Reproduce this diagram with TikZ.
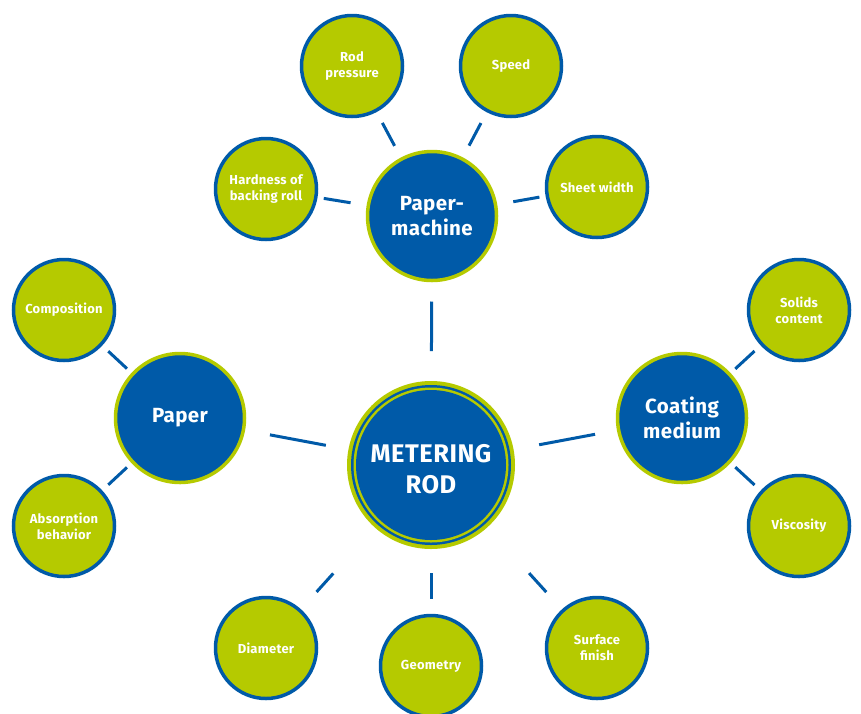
\documentclass[tikz,border=0pt]{standalone}
\usepackage{fontspec}
\setmainfont{Fira Sans}[LetterSpace=2]
\definecolor{mblue}{RGB}{0,90,168}
\definecolor{mgreen}{RGB}{181,202,0}
\begin{document}
\begin{tikzpicture}[x=1pt,y=-1pt,
  leaf/.style={circle,fill=mgreen,draw=mblue,line width=3.5pt,minimum size=101pt,inner sep=0pt,outer sep=0pt,text=white,font=\bfseries\fontsize{13}{16}\selectfont,align=center},
  hub/.style={circle,fill=mblue,draw=mgreen,line width=3.5pt,minimum size=129pt,inner sep=0pt,outer sep=0pt,text=white,font=\bfseries\fontsize{20.5}{25}\selectfont,align=center},
  core/.style={circle,minimum size=168pt,inner sep=0pt,outer sep=0pt,text=white,font=\bfseries\fontsize{25.5}{31}\selectfont,align=center},
  conn/.style={draw=mblue,line width=3pt}]
\useasboundingbox (0,0) rectangle (861,713);
% centre
\fill[mgreen] (431,465) circle (84pt);
\fill[mblue] (431,465) circle (80pt);
\fill[mgreen] (431,465) circle (77.5pt);
\fill[mblue] (431,465) circle (75pt);
\node[core] (rod) at (431,465) {};
\node[text=white,font=\bfseries\fontsize{25.5}{31}\selectfont,align=center] (rodlbl) at (431,469) {METERING\\ROD};
% hubs
\node[hub] (pm) at (432,216) {Paper-\\machine};
\node[hub] (paper) at (180,418) {Paper};
\node[hub] (coat) at (682,418) {Coating\\medium};
% leaves
\node[leaf] (rp) at (352,66) {Rod\\pressure};
\node[leaf] (speed) at (511,66) {Speed};
\node[leaf] (hard) at (266,189) {Hardness of\\backing roll};
\node[leaf] (sheet) at (597,187) {Sheet width};
\node[leaf] (comp) at (64,310) {Composition};
\node[leaf] (abs) at (64,526) {Absorption\\behavior};
\node[leaf] (solids) at (799,310) {Solids\\content};
\node[leaf] (visc) at (799,526) {Viscosity};
\node[leaf] (diam) at (266,648) {Diameter};
\node[leaf] (geom) at (431,666) {Geometry};
\node[leaf] (surf) at (597,648) {Surface\\finish};
% connectors from core
\draw[conn,shorten <=30pt,shorten >=21pt] (rod) -- (pm);
\draw[conn,shorten <=23pt,shorten >=27pt] (rod) -- (paper);
\draw[conn,shorten <=26pt,shorten >=24pt] (rod) -- (coat);
\draw[conn,shorten <=62pt,shorten >=25pt] (rod) -- (diam);
\draw[conn,shorten <=24pt,shorten >=17pt] (rod) -- (geom);
\draw[conn,shorten <=62pt,shorten >=25pt] (rod) -- (surf);
% hub connectors
\draw[conn,shorten <=18pt,shorten >=8pt] (pm) -- (hard);
\draw[conn,shorten <=15pt,shorten >=14pt] (pm) -- (rp);
\draw[conn,shorten <=15pt,shorten >=14pt] (pm) -- (speed);
\draw[conn,shorten <=18pt,shorten >=8pt] (pm) -- (sheet);
\draw[conn,shorten <=8pt,shorten >=10pt] (paper) -- (comp);
\draw[conn,shorten <=8pt,shorten >=10pt] (paper) -- (abs);
\draw[conn,shorten <=8pt,shorten >=10pt] (coat) -- (solids);
\draw[conn,shorten <=8pt,shorten >=10pt] (coat) -- (visc);
\end{tikzpicture}
\end{document}
